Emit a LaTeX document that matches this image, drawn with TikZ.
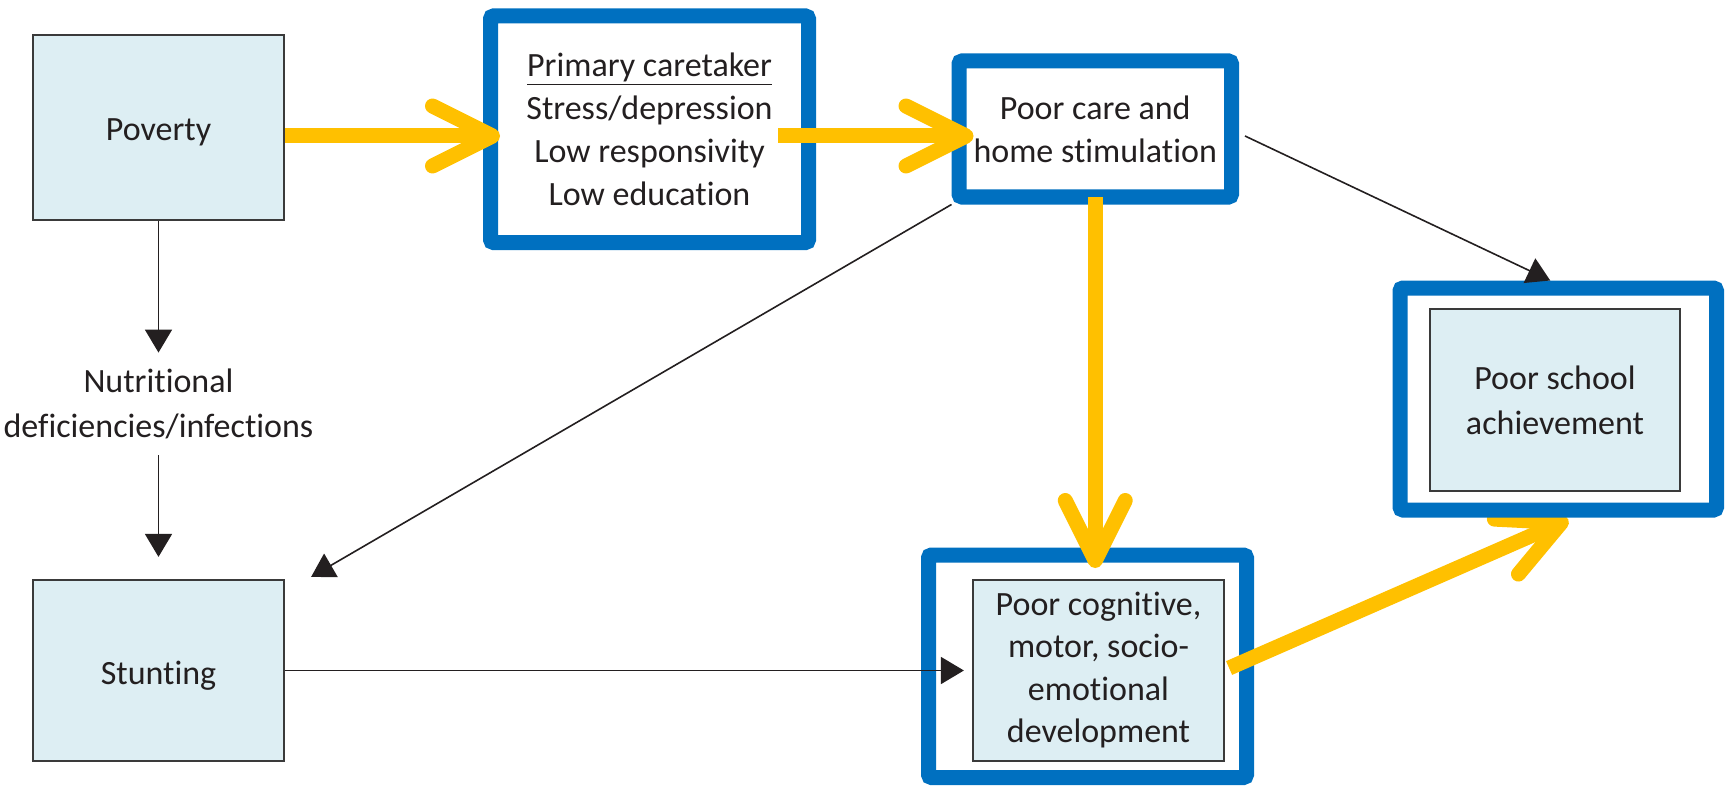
\documentclass[tikz,border=0pt]{standalone}
\usepackage{fontspec}
\setmainfont{Carlito}[Ligatures=NoCommon]
\usetikzlibrary{arrows.meta}
\definecolor{bblue}{HTML}{0070C0}
\definecolor{yel}{HTML}{FFC000}
\definecolor{lblue}{HTML}{DDEEF3}
\definecolor{txt}{HTML}{231F20}
\definecolor{edge}{HTML}{3A3A3A}
\pgfdeclarelayer{lowest}
\pgfdeclarelayer{low}
\pgfsetlayers{lowest,low,main}
\begin{document}
\begin{tikzpicture}[x=0.5pt,y=-0.5pt,
  every node/.style={font=\fontsize{17pt}{21.5pt}\selectfont, text=txt, align=center},
  lbox/.style={draw=edge, line width=1.1pt, fill=lblue, inner sep=0pt},
  bbox/.style={draw=bblue, line width=7.5pt, rounded corners=1.5pt, fill=white, inner sep=0pt},
  blk/.style={draw=txt, line width=0.8pt, -{Triangle[length=11.5pt,width=13.5pt]}},
  yelarrow/.style={draw=yel, line width=7.5pt, -{Straight Barb[length=30pt,width=30pt,round]}},
]
\useasboundingbox (0,0) rectangle (1725,792);
% left column
\node[lbox, minimum width=125.5pt, minimum height=92.5pt] (pov) at (158.5,127.5) {\raisebox{-6.5pt}[0pt][0pt]{Poverty}};
\node[inner sep=0pt, minimum height=51pt, font=\fontsize{17pt}{22.5pt}\selectfont] (nut) at (158.5,404) {Nutritional\\deficiencies/infections};
\node[lbox, minimum width=125.5pt, minimum height=90.5pt] (stu) at (158.5,670.5) {\raisebox{-7pt}[0pt][0pt]{Stunting}};
% caretaker and care
\node[bbox, minimum width=159pt, minimum height=113.25pt] (care) at (649.5,129.25) {\underline{Primary caretaker}\\Stress/depression\\Low responsivity\\Low education};
\node[bbox, minimum width=136.25pt, minimum height=68pt] (pc) at (1095.25,129) {Poor care and\\home stimulation};
% development
\begin{pgfonlayer}{lowest}
\node[bbox, minimum width=159pt, minimum height=111.25pt] (cogB) at (1087.5,666.25) {};
\node[lbox, minimum width=125.5pt, minimum height=90.5pt, font=\fontsize{17pt}{21.3pt}\selectfont] (cog) at (1098.5,670.5) {\raisebox{-1.2pt}{\begin{tabular}{@{}c@{}}Poor cognitive,\\motor, socio-\\emotional\\development\end{tabular}}};
\end{pgfonlayer}
% school
\node[bbox, minimum width=158.25pt, minimum height=111pt] (schB) at (1558.25,399) {};
\node[lbox, minimum width=125pt, minimum height=91pt, font=\fontsize{17pt}{22.5pt}\selectfont] (sch) at (1555,400) {Poor school\\achievement};
% yellow arrow under school box
\begin{pgfonlayer}{low}
\draw[yelarrow] ([xshift=2pt,yshift=1.25pt]cog.east) -- ([xshift=5pt,yshift=-1pt]schB.south);
\end{pgfonlayer}
% black connectors
\draw[blk] (pov.south) -- (nut.north);
\draw[blk] (nut.south) -- ([yshift=11pt]stu.north);
\draw[blk] (stu.east) -- ([xshift=-4pt]cog.west);
\draw[blk] (pc.south west) -- ([xshift=13pt,yshift=1pt]stu.north east);
\draw[blk] ([shift={(3pt,-3.5pt)}]pc.east) -- ([xshift=-4pt]schB.north);
% yellow connectors
\draw[yelarrow] ([yshift=-4.25pt]pov.east) -- ([xshift=8.5pt,yshift=-3.375pt]care.west);
\draw[yelarrow] ([xshift=-19pt,yshift=-3.375pt]care.east) -- ([xshift=11pt,yshift=-3.5pt]pc.west);
\draw[yelarrow] ([yshift=3.75pt]pc.south) -- ([xshift=3.875pt,yshift=-10.25pt]cogB.north);
\end{tikzpicture}
\end{document}
